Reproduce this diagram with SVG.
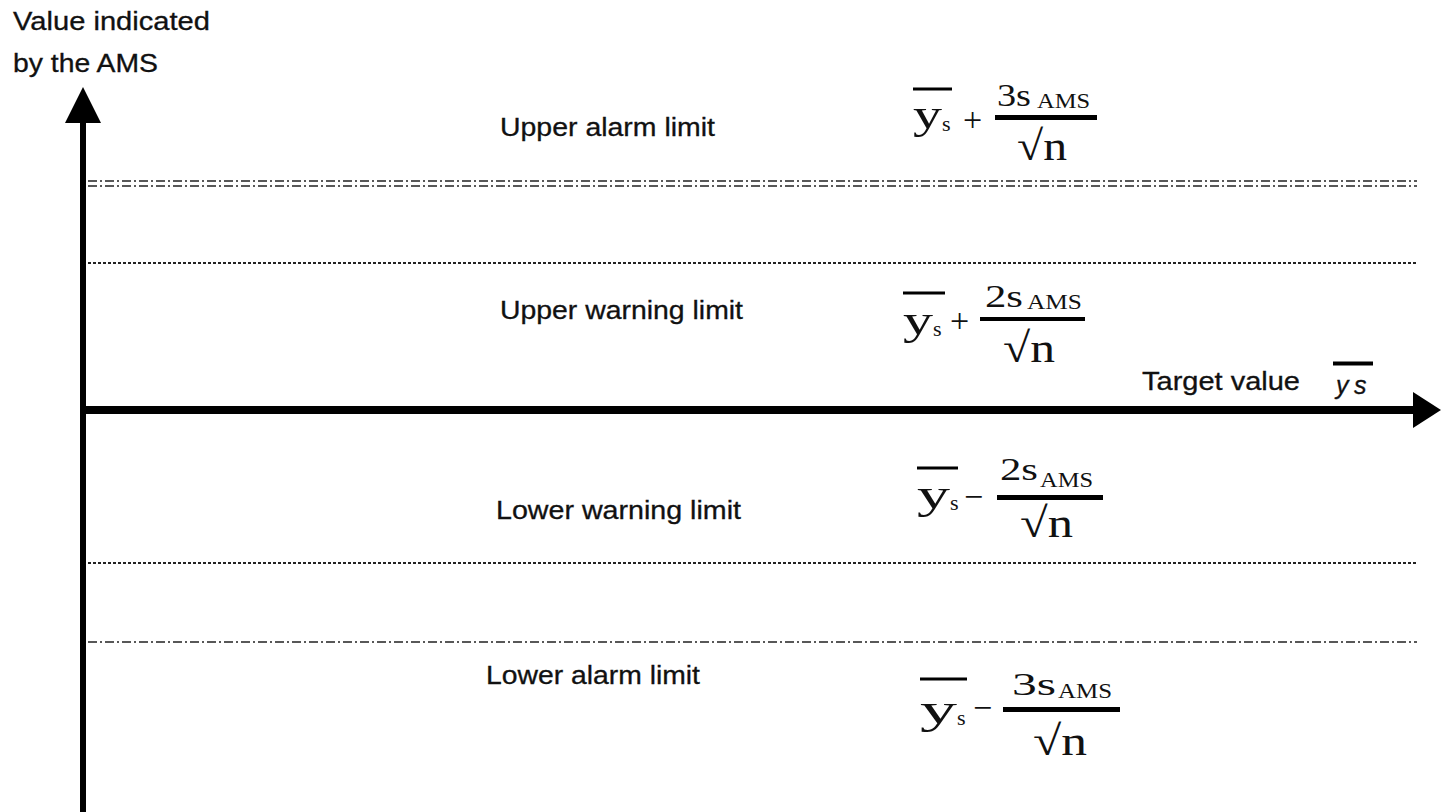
<svg xmlns="http://www.w3.org/2000/svg" width="1441" height="812" viewBox="0 0 1441 812">
<style>
.lbl{font-family:"Liberation Sans",Arial,sans-serif;font-size:25px;fill:#111;stroke:#111;stroke-width:0.3}
.mth{font-family:"Liberation Serif","Times New Roman",serif;fill:#111}
.big{font-size:42px}
.num{font-size:32px}
.sub{font-size:21px}
.ss{font-size:22px}
.op{font-size:34px}
.axis{stroke:#000;fill:none}
.dd{stroke:#222;stroke-width:1.6;fill:none;stroke-dasharray:9 3 2 3}
.dot{stroke:#222;stroke-width:2;fill:none;stroke-dasharray:3 2}
.bar{fill:#000}
</style>
<g id="connectors">
<line class="axis" x1="83" y1="812" x2="83" y2="115" stroke-width="6"/>
<polygon points="83,87 65,123 101,123" fill="#000"/>
<line class="axis" x1="80" y1="410" x2="1420" y2="410" stroke-width="8"/>
<polygon points="1441,410 1413,392 1413,428" fill="#000"/>
<line class="dd" x1="88" y1="181" x2="1417" y2="181"/>
<line class="dd" x1="88" y1="186" x2="1417" y2="186"/>
<line class="dot" x1="88" y1="263" x2="1417" y2="263"/>
<line class="dot" x1="88" y1="563" x2="1417" y2="563"/>
<line class="dd" x1="88" y1="642" x2="1417" y2="642" stroke-dasharray="10 4 2 4"/>
</g>
<g id="axis-label">
<text class="lbl" x="13" y="30" textLength="197" lengthAdjust="spacingAndGlyphs">Value indicated</text>
<text class="lbl" x="13" y="72" textLength="145" lengthAdjust="spacingAndGlyphs">by the AMS</text>
</g>
<g id="upper-alarm">
<text class="lbl" x="500" y="136" textLength="215" lengthAdjust="spacingAndGlyphs">Upper alarm limit</text>
<rect class="bar" x="913" y="87.5" width="39" height="3"/>
<text class="mth big" x="913" y="128" textLength="29" lengthAdjust="spacingAndGlyphs">y</text>
<text class="mth ss" x="942" y="131">s</text>
<text class="mth op" x="963" y="131">+</text>
<rect class="bar" x="995" y="115" width="102" height="5"/>
<text class="mth num" x="997" y="106" textLength="34" lengthAdjust="spacingAndGlyphs">3s</text>
<text class="mth sub" x="1037" y="108" textLength="53" lengthAdjust="spacingAndGlyphs">AMS</text>
<text class="mth big" x="1017" y="160" textLength="50" lengthAdjust="spacingAndGlyphs">√n</text>
</g>
<g id="upper-warning">
<text class="lbl" x="500" y="319" textLength="243" lengthAdjust="spacingAndGlyphs">Upper warning limit</text>
<rect class="bar" x="903" y="291.5" width="42" height="3"/>
<text class="mth big" x="903" y="334" textLength="30" lengthAdjust="spacingAndGlyphs">y</text>
<text class="mth ss" x="933" y="336">s</text>
<text class="mth op" x="950" y="332">+</text>
<rect class="bar" x="980" y="317" width="105" height="4"/>
<text class="mth num" x="985" y="307" textLength="38" lengthAdjust="spacingAndGlyphs">2s</text>
<text class="mth sub" x="1027" y="309" textLength="55" lengthAdjust="spacingAndGlyphs">AMS</text>
<text class="mth big" x="1003" y="362" textLength="52" lengthAdjust="spacingAndGlyphs">√n</text>
</g>
<g id="target">
<text class="lbl" x="1142" y="390" textLength="158" lengthAdjust="spacingAndGlyphs">Target value</text>
<rect class="bar" x="1333" y="361.5" width="40" height="4"/>
<text class="lbl" x="1336" y="394" font-style="italic" font-size="27">y</text>
<text class="lbl" x="1354" y="394" font-style="italic" font-size="16">s</text>
</g>
<g id="lower-warning">
<text class="lbl" x="496" y="519" textLength="245" lengthAdjust="spacingAndGlyphs">Lower warning limit</text>
<rect class="bar" x="917" y="466.5" width="41" height="3"/>
<text class="mth big" x="917" y="508" textLength="33" lengthAdjust="spacingAndGlyphs">y</text>
<text class="mth ss" x="950" y="510">s</text>
<text class="mth op" x="964" y="508">−</text>
<rect class="bar" x="997" y="495" width="106" height="5"/>
<text class="mth num" x="1000" y="480" textLength="38" lengthAdjust="spacingAndGlyphs">2s</text>
<text class="mth sub" x="1040" y="487" textLength="53" lengthAdjust="spacingAndGlyphs">AMS</text>
<text class="mth big" x="1020" y="537" textLength="53" lengthAdjust="spacingAndGlyphs">√n</text>
</g>
<g id="lower-alarm">
<text class="lbl" x="486" y="684" textLength="214" lengthAdjust="spacingAndGlyphs">Lower alarm limit</text>
<rect class="bar" x="920" y="677.5" width="47" height="3"/>
<text class="mth big" x="920" y="723" textLength="37" lengthAdjust="spacingAndGlyphs">y</text>
<text class="mth ss" x="957" y="725">s</text>
<text class="mth op" x="973" y="719">−</text>
<rect class="bar" x="1003" y="707" width="117" height="5"/>
<text class="mth num" x="1012" y="695" textLength="44" lengthAdjust="spacingAndGlyphs">3s</text>
<text class="mth sub" x="1058" y="698" textLength="54" lengthAdjust="spacingAndGlyphs">AMS</text>
<text class="mth big" x="1033" y="755" textLength="54" lengthAdjust="spacingAndGlyphs">√n</text>
</g>
</svg>
